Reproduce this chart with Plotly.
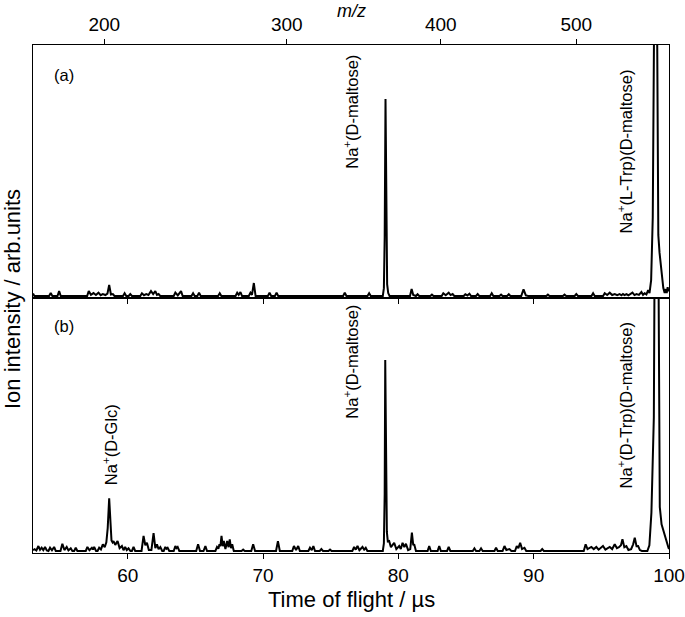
import numpy as np
import plotly.graph_objects as go

# TOF spectra: (time of flight / us, intensity / arb.)
# panel (a): Na+ / L-Trp / D-maltose
spec_a = [
    (53.0, 1.3), (53.1, 0),
    (54.19, 0), (54.31, 1.5), (54.43, 0),
    (54.81, 0), (54.93, 2.5), (55.05, 0),
    (57.0, 0), (57.12, 2.5), (57.28, 0.6), (57.47, 1.5), (57.65, 0.5), (57.84, 1.7),
    (58.0, 0.4), (58.16, 1.0), (58.35, 0.5), (58.5, 1.2), (58.63, 5.6), (58.76, 0.8),
    (58.9, 1.0), (59.02, 0),
    (59.65, 0), (59.77, 1.4), (59.89, 0), (60.07, 0), (60.19, 1.0), (60.31, 0),
    (60.93, 0), (61.05, 1.4), (61.2, 0.4), (61.37, 1.0), (61.53, 0.5), (61.72, 2.5),
    (61.88, 1.0), (62.04, 2.5), (62.16, 0.6), (62.28, 1.0), (62.4, 0),
    (63.4, 0), (63.52, 1.7), (63.7, 0.3), (63.94, 2.5), (64.06, 0),
    (64.71, 0), (64.83, 1.4), (64.95, 0), (65.15, 0), (65.27, 1.7), (65.39, 0),
    (66.68, 0), (66.8, 1.4), (66.92, 0),
    (67.97, 0), (68.09, 1.7), (68.2, 0.6), (68.33, 2.0), (68.45, 0),
    (68.95, 0), (69.07, 1.7), (69.18, 0.6), (69.32, 6.6), (69.45, 0),
    (70.36, 0), (70.48, 1.7), (70.6, 0), (70.88, 0), (71.0, 1.7), (71.12, 0),
    (75.92, 0), (76.04, 1.7), (76.16, 0),
    (77.72, 0), (77.84, 1.4), (77.96, 0),
    (78.85, 0), (78.93, 4), (78.99, 30), (79.05, 100), (79.11, 30), (79.17, 6),
    (79.25, 1.5), (79.35, 0),
    (80.86, 0), (80.98, 3.6), (81.1, 0.5), (81.3, 0), (81.42, 0.9), (81.54, 0),
    (82.36, 0), (82.48, 0.7), (82.6, 0),
    (83.2, 0), (83.32, 1.4), (83.5, 0.4), (83.72, 1.7), (83.86, 0.5), (84.01, 1.0), (84.13, 0),
    (84.83, 0), (84.95, 0.9), (85.1, 0.3), (85.25, 1.2), (85.37, 0),
    (85.74, 0), (85.86, 1.0), (85.98, 0),
    (86.78, 0), (86.9, 1.4), (87.02, 0),
    (87.47, 0), (87.59, 0.7), (87.71, 0), (88.04, 0), (88.16, 0.9), (88.28, 0),
    (89.08, 0), (89.25, 3.4), (89.42, 0.3), (89.6, 0),
    (90.93, 0), (91.05, 0.7), (91.17, 0),
    (92.16, 0), (92.28, 0.7), (92.4, 0),
    (93.03, 0), (93.15, 1.0), (93.27, 0),
    (94.27, 0), (94.39, 1.4), (94.51, 0),
    (95.13, 0), (95.25, 1.4), (95.43, 0.5), (95.62, 1.7), (95.8, 0.5), (95.99, 1.0),
    (96.17, 0.4), (96.35, 1.0), (96.48, 0.4), (96.6, 1.0), (96.72, 0.5), (96.85, 1.0),
    (97.0, 0.4), (97.3, 1.7), (97.45, 0.5), (97.6, 1.0), (97.78, 0.6), (97.96, 2.0),
    (98.08, 0.6), (98.2, 1.4), (98.33, 0.8), (98.46, 3.0), (98.56, 1.5),
    (98.68, 8), (98.8, 40), (98.9, 140), (99.02, 400), (99.12, 140), (99.17, 60),
    (99.21, 31), (99.3, 22), (99.45, 12), (99.58, 4), (99.68, 1.5), (99.76, 3.5),
    (99.83, 1.5), (99.9, 4.5), (99.95, 2.5), (100.0, 3.5),
]

# panel (b): Na+ / D-Trp / D-maltose (+ D-Glc)
spec_b = [
    (53.0, 0.5), (53.12, 1.0), (53.25, 0.3), (53.4, 2.6), (53.52, 0.6), (53.64, 1.7),
    (53.76, 0.5), (53.89, 2.1), (54.02, 0.3), (54.14, 0), (54.26, 1.7), (54.4, 0.4),
    (54.56, 2.1), (54.68, 0),
    (55.03, 0), (55.17, 3.8), (55.32, 0.5), (55.49, 2.1), (55.62, 0.3), (55.79, 1.4), (55.91, 0),
    (56.04, 0), (56.16, 1.7), (56.28, 0),
    (56.9, 0), (57.02, 2.1), (57.17, 0.4), (57.35, 1.7), (57.43, 0.8), (57.52, 2.1),
    (57.66, 0), (57.77, 0), (57.89, 1.7), (58.02, 0.8), (58.16, 3.5), (58.3, 2.0),
    (58.42, 4.5), (58.52, 12), (58.63, 27.6), (58.72, 12), (58.8, 5.5), (58.88, 4.5),
    (58.95, 5.2), (59.08, 3.2), (59.25, 5.2), (59.4, 1.5), (59.57, 2.6), (59.69, 0.4),
    (59.81, 2.1), (59.93, 0.5), (60.06, 1.4), (60.2, 0), (60.31, 0), (60.43, 2.1), (60.55, 0),
    (61.02, 0), (61.17, 7.9), (61.3, 3.0), (61.42, 4.3), (61.56, 0.5), (61.75, 0.5),
    (61.91, 9.4), (62.04, 1.5), (62.16, 3.5), (62.28, 1.0), (62.41, 2.1), (62.55, 0),
    (62.66, 0), (62.78, 2.1), (62.86, 1.2), (62.95, 1.7), (63.07, 0),
    (63.4, 0), (63.52, 2.6), (63.6, 1.5), (63.69, 2.1), (63.81, 0),
    (65.06, 0), (65.2, 3.5), (65.34, 0), (65.6, 0), (65.74, 2.6), (65.86, 0),
    (66.48, 0), (66.6, 2.1), (66.7, 1.2), (66.78, 3.5), (66.85, 2.5), (66.93, 7.9),
    (67.02, 2.5), (67.1, 5.2), (67.22, 1.0), (67.35, 5.2), (67.45, 2.0), (67.54, 6.1),
    (67.63, 1.5), (67.72, 3.5), (67.84, 0),
    (68.41, 0), (68.53, 0.7), (68.65, 0),
    (69.13, 0), (69.27, 3.5), (69.41, 0),
    (70.96, 0), (71.1, 5.2), (71.24, 0),
    (72.16, 0), (72.28, 2.6), (72.44, 0.5), (72.6, 2.6), (72.72, 0),
    (73.35, 0), (73.47, 1.7), (73.6, 0.5), (73.72, 2.6), (73.84, 0),
    (74.19, 0), (74.31, 1.0), (74.43, 0),
    (74.83, 0), (74.95, 0.7), (75.07, 0),
    (76.6, 0), (76.73, 2.1), (76.85, 0.7), (76.98, 2.6), (77.12, 0.4), (77.35, 2.1),
    (77.47, 0.7), (77.59, 1.7), (77.71, 0),
    (78.85, 0), (78.93, 4), (78.99, 30), (79.03, 100), (79.09, 35), (79.15, 10),
    (79.22, 5), (79.32, 5.2), (79.45, 2.0), (79.56, 3.0), (79.69, 4.3), (79.85, 1.0),
    (80.06, 2.6), (80.18, 1.0), (80.31, 4.3), (80.44, 2.0), (80.56, 3.8), (80.72, 0.5),
    (80.88, 1.0), (81.0, 9.6), (81.1, 3.0), (81.17, 3.5), (81.3, 0),
    (82.16, 0), (82.28, 2.6), (82.4, 0),
    (82.9, 0), (83.02, 2.6), (83.14, 0),
    (83.6, 0), (83.72, 2.1), (83.84, 0),
    (85.5, 0), (85.62, 1.4), (85.74, 0),
    (85.99, 0), (86.11, 1.4), (86.23, 0),
    (87.1, 0), (87.22, 1.7), (87.34, 0),
    (87.7, 0), (87.84, 2.6), (87.98, 0.5), (88.21, 1.0), (88.35, 0),
    (88.62, 0), (88.75, 2.6), (88.87, 1.5), (89.0, 4.3), (89.14, 1.0), (89.32, 1.7), (89.45, 0),
    (90.51, 0), (90.63, 1.0), (90.75, 0),
    (93.7, 0), (93.84, 3.5), (93.98, 1.0), (94.26, 2.1), (94.44, 1.0), (94.63, 2.1),
    (94.8, 0.7), (95.12, 2.6), (95.3, 0.7), (95.62, 2.1), (95.8, 1.0), (95.99, 3.5),
    (96.15, 1.5), (96.3, 2.0), (96.45, 3.0), (96.56, 6.1), (96.7, 2.0), (96.85, 2.6),
    (97.0, 0.5), (97.2, 1.0), (97.35, 3.5), (97.47, 7.0), (97.6, 2.5), (97.72, 2.6),
    (97.85, 0.5), (98.0, 0),
    (98.4, 0), (98.55, 3), (98.7, 20), (98.88, 70), (99.0, 180), (99.1, 400), (99.2, 180),
    (99.25, 60), (99.32, 23), (99.45, 14), (99.6, 10), (99.72, 7), (99.8, 5.5),
    (99.88, 3.5), (99.95, 2.0), (100.0, 1.0),
]

# top axis: m/z ticks, placed with the TOF calibration t = A*sqrt(m/z) + B
mz_ticks = [200, 300, 400, 500]
cal_a, cal_b = 4.245, -1.77

FONT = "Liberation Sans, Arial, sans-serif"
tof_range = [53, 100]

t_a, i_a = zip(*spec_a)
t_b, i_b = zip(*spec_b)

fig = go.Figure()
fig.add_trace(go.Scatter(x=t_a, y=i_a, mode="lines", line=dict(color="black", width=2),
                         xaxis="x", yaxis="y", showlegend=False))
fig.add_trace(go.Scatter(x=t_b, y=i_b, mode="lines", line=dict(color="black", width=2),
                         xaxis="x2", yaxis="y2", showlegend=False))
# carrier for the m/z axis
fig.add_trace(go.Scatter(x=[tof_range[0]], y=[0], mode="lines", opacity=0,
                         xaxis="x3", yaxis="y", showlegend=False, hoverinfo="skip"))

mz_pos = [cal_a * np.sqrt(m) + cal_b for m in mz_ticks]

axis_common = dict(showline=True, linecolor="black", linewidth=1, mirror=True,
                   showgrid=False, zeroline=False, automargin=False)
split = 0.502

fig.update_layout(
    width=685, height=617,
    margin=dict(l=33, r=16, t=45, b=64, autoexpand=False),
    plot_bgcolor="white", paper_bgcolor="white",
    font=dict(family=FONT, color="black"),
    xaxis=dict(axis_common, domain=[0, 1], anchor="y", range=tof_range, dtick=10,
               tick0=0, ticks="outside", ticklen=5, tickcolor="black",
               showticklabels=False),
    xaxis3=dict(overlaying="x", side="top", anchor="y", range=tof_range,
                tickmode="array", tickvals=mz_pos, ticktext=[str(m) for m in mz_ticks],
                ticks="outside", ticklen=5, tickcolor="black", showgrid=False,
                zeroline=False, automargin=False, tickfont=dict(size=19)),
    xaxis2=dict(axis_common, domain=[0, 1], anchor="y2", range=tof_range, dtick=10,
                tick0=0, ticks="outside", ticklen=5, tickcolor="black",
                tickfont=dict(size=19)),
    yaxis=dict(axis_common, domain=[split, 1], anchor="x", range=[-1.0, 127.4],
               showticklabels=False, ticks=""),
    yaxis2=dict(axis_common, domain=[0, split], anchor="x2", range=[-1.05, 132.5],
                showticklabels=False, ticks=""),
)

ann_font = dict(family=FONT, size=16.5, color="black")
labels = [
    ("x", "y", 76.48, 93.4, "Na<sup>+</sup>(D-maltose)"),
    ("x", "y", 96.78, 73.6, "Na<sup>+</sup>(L-Trp)(D-maltose)"),
    ("x2", "y2", 58.70, 55.5, "Na<sup>+</sup>(D-Glc)"),
    ("x2", "y2", 76.48, 99.0, "Na<sup>+</sup>(D-maltose)"),
    ("x2", "y2", 96.78, 76.4, "Na<sup>+</sup>(D-Trp)(D-maltose)"),
]
for xr, yr, x, y, txt in labels:
    fig.add_annotation(xref=xr, yref=yr, x=x, y=y, text=txt, textangle=-90,
                       showarrow=False, font=ann_font, xanchor="center", yanchor="middle")

fig.add_annotation(xref="x", yref="y", x=54.4, y=112, text="(a)", showarrow=False,
                   font=ann_font, xanchor="left", yanchor="middle")
fig.add_annotation(xref="x2", yref="y2", x=54.4, y=117.8, text="(b)", showarrow=False,
                   font=ann_font, xanchor="left", yanchor="middle")

# axis titles
fig.add_annotation(xref="paper", yref="paper", x=0.5, y=1.066, text="<i>m/z</i>",
                   showarrow=False, font=dict(family=FONT, size=18),
                   xanchor="center", yanchor="middle")
fig.add_annotation(xref="paper", yref="paper", x=0.5, y=-0.0925, text="Time of flight / µs",
                   showarrow=False, font=dict(family=FONT, size=22),
                   xanchor="center", yanchor="middle")
fig.add_annotation(xref="paper", yref="paper", x=-0.033, y=0.5, text="Ion intensity / arb.units",
                   textangle=-90, showarrow=False, font=dict(family=FONT, size=22),
                   xanchor="center", yanchor="middle")

# page body has an 8px default margin; drop it so the figure fills the window
fig.write_html("out.html", config={"displayModeBar": False},
               post_script="document.body.style.margin = '0px';")
